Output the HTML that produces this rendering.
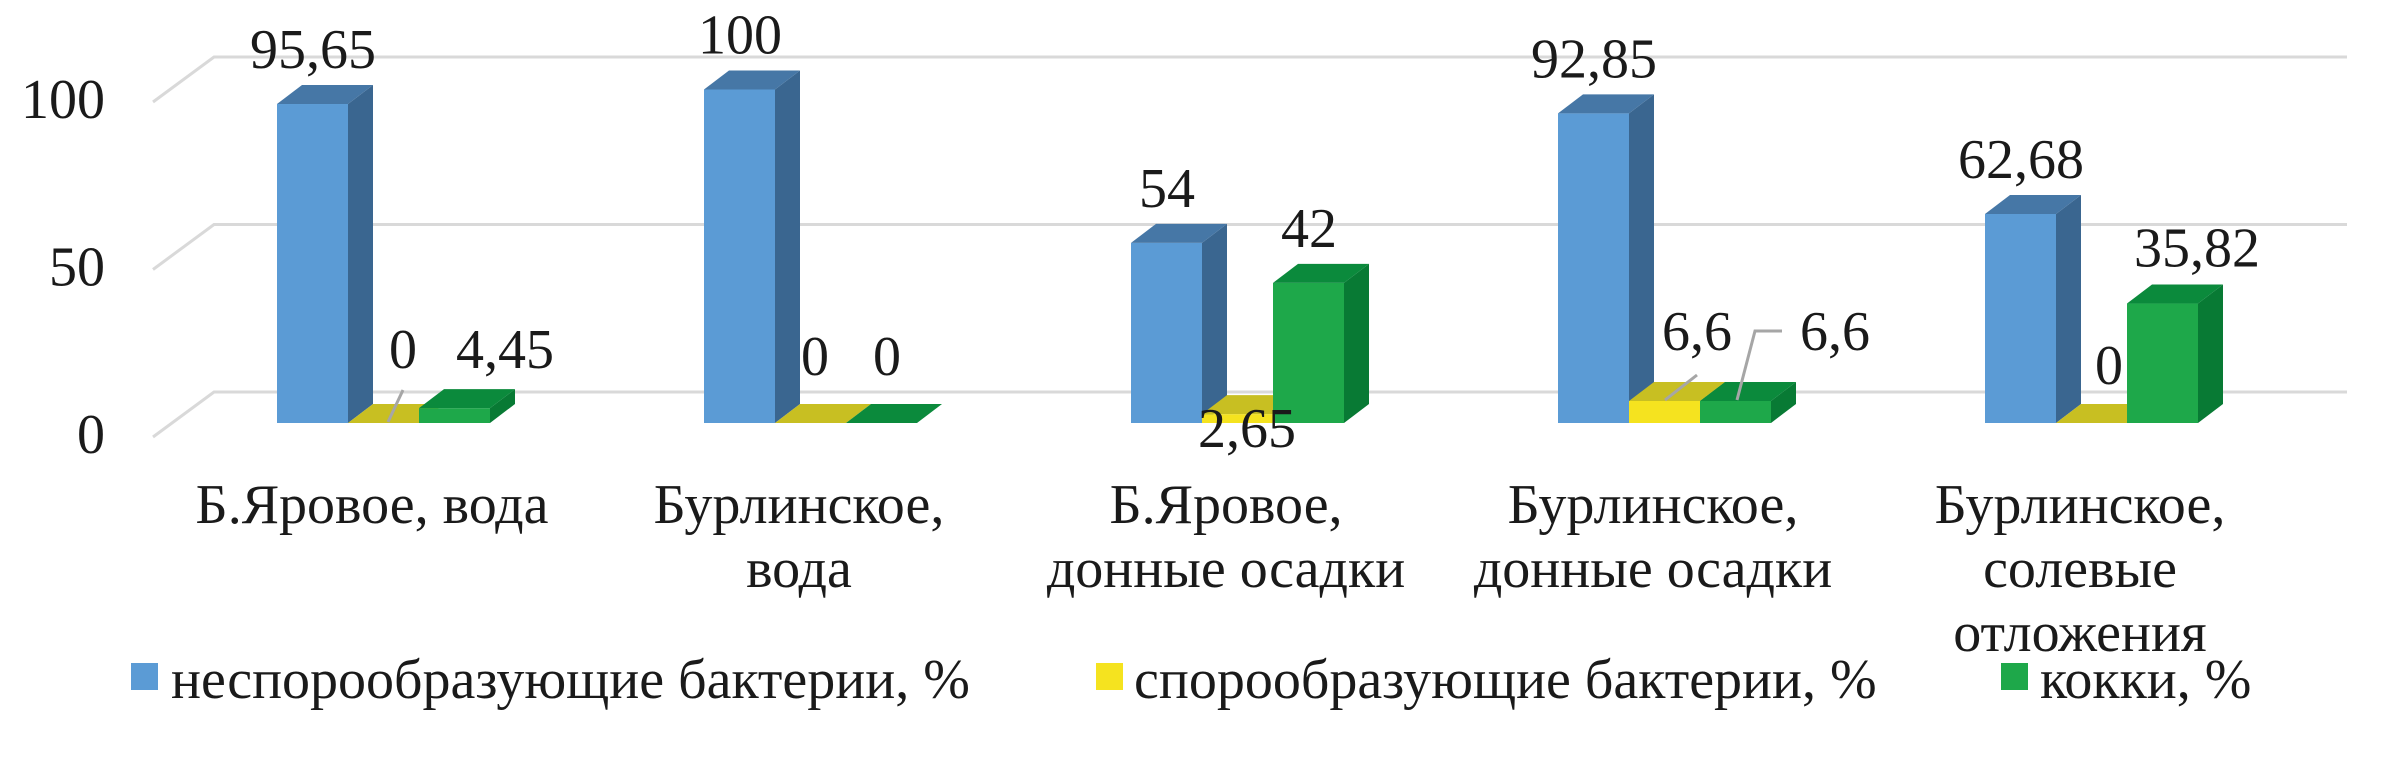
<!DOCTYPE html>
<html><head><meta charset="utf-8">
<style>
html,body{margin:0;padding:0;background:#fff;}
svg, svg text{font-family:"Liberation Serif","DejaVu Serif",serif;}
svg text{fill:#1a1a1a;}
</style></head>
<body>
<svg id="chart" width="2385" height="758" viewBox="0 0 2385 758" xmlns="http://www.w3.org/2000/svg" font-family="Liberation Serif, DejaVu Serif, serif">
<g id="grid"></g>
<g id="yaxis"></g>
<g id="bars"></g>
<g id="labels"></g>
<g id="cats"></g>
<g id="legend">
  <rect x="131" y="663" width="27" height="27" fill="#5b9bd5"/>
  <text x="171" y="698" font-size="56" font-family="Liberation Serif, serif">неспорообразующие бактерии, %</text>
  <rect x="1096" y="663" width="27" height="27" fill="#f5e31f"/>
  <text x="1134" y="698" font-size="56" font-family="Liberation Serif, serif">спорообразующие бактерии, %</text>
  <rect x="2001" y="663" width="27" height="27" fill="#1ea84a"/>
  <text x="2040" y="698" font-size="56" font-family="Liberation Serif, serif">кокки, %</text>
</g>
</svg>
<script>
const categories = [["Б.Яровое, вода"],["Бурлинское,","вода"],["Б.Яровое,","донные осадки"],["Бурлинское,","донные осадки"],["Бурлинское,","солевые","отложения"]];
const nonSpore = [95.65, 100, 54, 92.85, 62.68];
const spore = [0, 0, 2.65, 6.6, 0];
const cocci = [4.45, 0, 42, 6.6, 35.82];
const valueLabels = [["95,65","0","4,45"],["100","0","0"],["54","2,65","42"],["92,85","6,6","6,6"],["62,68","0","35,82"]];
const yTicks = [0, 50, 100];
const yTickLabels = ["0","50","100"];

const NS='http://www.w3.org/2000/svg';
const FF='Liberation Serif, DejaVu Serif, serif';
const BASE=423, K=3.335, BW=71, DX=25, DY=19, G0=277, GS=427;
function yBar(v){return BASE - v*K;}
function yBack(v){return 392 - v*3.35;}
function mk(tag, attrs, parent){const e=document.createElementNS(NS,tag);for(const k in attrs)e.setAttribute(k,attrs[k]);parent.appendChild(e);return e;}
const grid=document.getElementById('grid'), yaxis=document.getElementById('yaxis'), bars=document.getElementById('bars'), labels=document.getElementById('labels'), cats=document.getElementById('cats');

yTicks.forEach((t,i)=>{
  const yb=yBack(t);
  const gl=mk('polyline',{points:`153,${yb+45} 214,${yb} 2347,${yb}`,fill:'none',stroke:'#d9d9d9','stroke-width':3},grid);
  
  
  const tx=mk('text',{x:105,y:yb+61,'font-size':56,'text-anchor':'end','font-family':FF},yaxis);
  tx.textContent=yTickLabels[i];
  
  
});

const series=[{vals:nonSpore,front:'#5b9bd5',side:'#3a6690',top:'#4677a6',name:'nonspore'},
              {vals:spore,front:'#f5e31f',side:'#a9a21a',top:'#c8bf22',name:'spore'},
              {vals:cocci,front:'#1ea84a',side:'#087a34',top:'#0b8a3c',name:'cocci'}];
const offs={"0-1":[19,-19],"0-2":[50,-4],"1-1":[4,-12],"1-2":[5,-12],"2-1":[9,69],"3-1":[32,-15],"3-2":[99,-15],"4-1":[17,-3],"4-2":[34,-1]};

categories.forEach((cat,g)=>{
  const gx=G0+g*GS;
  series.forEach((s,si)=>{
    const v=s.vals[g], x=gx+si*BW, yt=yBar(v);
    const grp=mk('g',{},bars);
    
    
    if(v>0){
      mk('rect',{x:x,y:yt,width:BW,height:BASE-yt,fill:s.front},grp);
      mk('polygon',{points:`${x+BW},${yt} ${x+BW+DX},${yt-DY} ${x+BW+DX},${BASE-DY} ${x+BW},${BASE}`,fill:s.side},grp);
    }
    mk('polygon',{points:`${x},${yt} ${x+DX},${yt-DY} ${x+BW+DX},${yt-DY} ${x+BW},${yt}`,fill:s.top},grp);
    let lx=x+36, ly=yt-36;
    const o=offs[g+'-'+si]; if(o){lx+=o[0];ly+=o[1];}
    const t=mk('text',{x:lx,y:ly,'font-size':56,'text-anchor':'middle','font-family':FF},labels);
    t.textContent=valueLabels[g][si];
    
    
  });
  const cx=gx+95;
  cat.forEach((line,li)=>{
    const t=mk('text',{x:cx,y:523+li*64,'font-size':56,'text-anchor':'middle','font-family':FF},cats);
    t.textContent=line;
    
    
  });
});
[[403,390,388,422],[1697,375,1665,400]].forEach(p=>{
  const l=mk('line',{x1:p[0],y1:p[1],x2:p[2],y2:p[3],stroke:'#a6a6a6','stroke-width':3},labels);
  
  
});
const pl=mk('polyline',{points:'1782,331 1755,331 1737,400',fill:'none',stroke:'#a6a6a6','stroke-width':3},labels);


</script>
</body></html>
